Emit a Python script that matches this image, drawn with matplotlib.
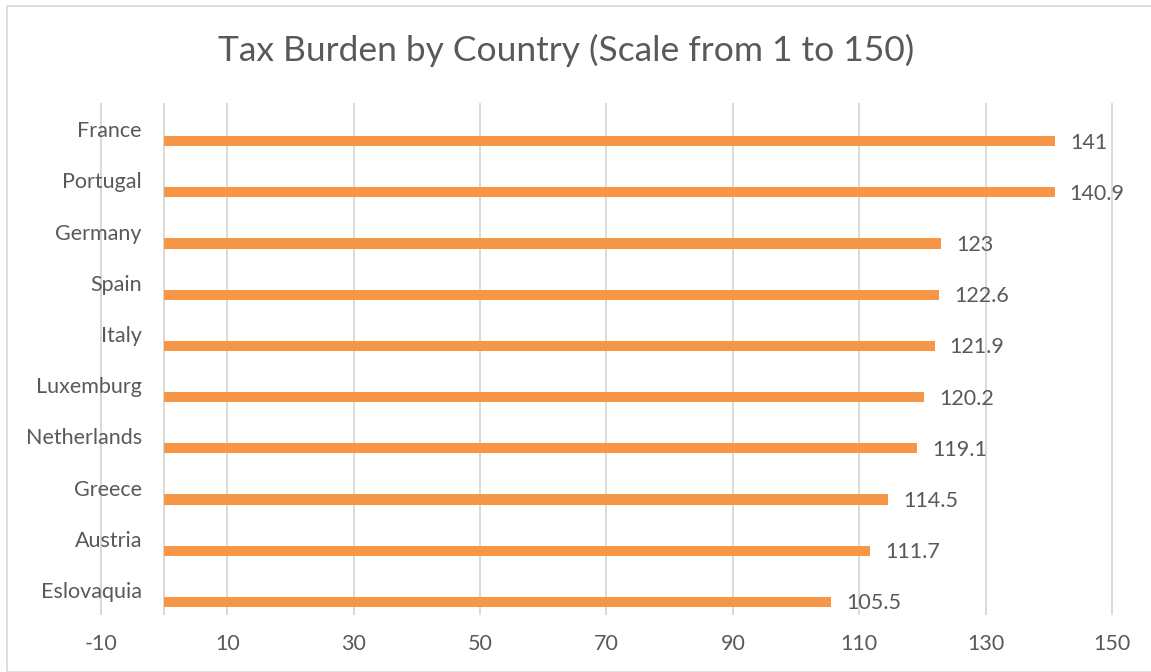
import matplotlib.pyplot as plt
from matplotlib.patches import Rectangle

countries = ['France', 'Portugal', 'Germany', 'Spain', 'Italy', 'Luxemburg',
             'Netherlands', 'Greece', 'Austria', 'Eslovaquia']
values = [141, 140.9, 123, 122.6, 121.9, 120.2, 119.1, 114.5, 111.7, 105.5]
xticks = list(range(-10, 151, 20))

plt.rcParams['font.family'] = ['Lato', 'DejaVu Sans']
text_color = '#595959'
grid_color = '#d9d9d9'
bar_color = '#F79646'

fig = plt.figure(figsize=(11.51, 6.72), dpi=100)
ax = fig.add_axes([99 / 1151, 1 - 615 / 672, 1015 / 1151, 512 / 672])

# figure frame
fig.patches.append(Rectangle((7 / 1151, 0), 1.2, (672 - 6) / 672, transform=fig.transFigure,
                             fill=False, edgecolor='#d9d9d9', linewidth=1.2))

pos = list(range(len(countries)))
bar_pos = [p + 0.245 for p in pos]
ax.barh(bar_pos, values, height=0.2, color=bar_color, zorder=3)

for y, v in zip(bar_pos, values):
    ax.text(v + 2.4, y + 0.03, f'{v:g}', va='center', ha='left', fontsize=15.5, color=text_color)

# category labels sit inside the plot area, right-aligned just left of zero
for y, name in zip(pos, countries):
    ax.text(-3.5, y + 0.05, name, va='center', ha='right', fontsize=15.5, color=text_color)

ax.set_xlim(-10.3, 150.3)
ax.set_ylim(len(countries) - 0.5, -0.5)
ax.set_xticks(xticks)
ax.set_xticklabels([str(t) for t in xticks])
ax.set_yticks([])
ax.tick_params(axis='both', length=0, labelsize=15.5, labelcolor=text_color)
ax.tick_params(axis='x', pad=14)

# gridlines plus the zero axis line
ax.vlines(xticks + [0], 0, 1, transform=ax.get_xaxis_transform(),
          colors=grid_color, linewidth=1.4, zorder=1)
for s in ax.spines.values():
    s.set_visible(False)

fig.text(566 / 1151, 1 - 50 / 672, 'Tax Burden by Country (Scale from 1 to 150)', ha='center', va='center',
         fontsize=25.5, color=text_color)

fig.savefig('out.png', dpi=100)
